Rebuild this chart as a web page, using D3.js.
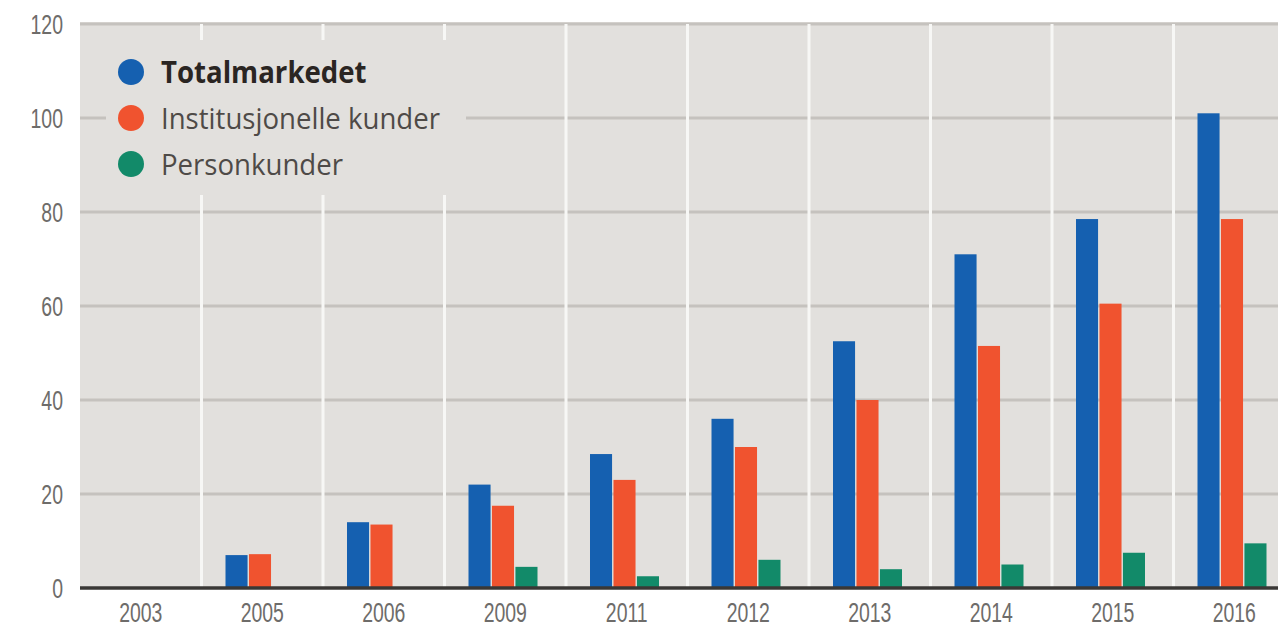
<html>
<head>
<meta charset="utf-8">
<style>
  body { margin: 0; padding: 0; background: #fff; font-family: "Open Sans", "Liberation Sans", sans-serif; }
  .tick text { fill: #6e6c6a; font-size: 27px; }
  .legend text { font-size: 30px; }
</style>
</head>
<body>
<div id="chart"></div>
<script src="https://cdn.jsdelivr.net/npm/d3@7"></script>
<script>
var years = ["2003", "2005", "2006", "2009", "2011", "2012", "2013", "2014", "2015", "2016"];
var total = [0, 7, 14, 22, 28.5, 36, 52.5, 71, 78.5, 101];
var institusjonelle = [0, 7.2, 13.5, 17.5, 23, 30, 40, 51.5, 60.5, 78.5];
var person = [0, 0, 0, 4.5, 2.5, 6, 4, 5, 7.5, 9.5];
var seriesNames = ["Totalmarkedet", "Institusjonelle kunder", "Personkunder"];
var colors = ["#1560b0", "#f0532f", "#128a69"];
var yTicks = [0, 20, 40, 60, 80, 100, 120];

var width = 1278, height = 637;
var margin = { top: 24, left: 80, bottom: 49 };
var bandW = 121.5;

var svg = d3.select("#chart").append("svg")
  .attr("width", width).attr("height", height);

var x = d3.scaleBand().domain(years)
  .range([margin.left, margin.left + bandW * years.length])
  .paddingInner(0).paddingOuter(0);
var y = d3.scaleLinear().domain([0, 120]).range([height - margin.bottom, margin.top]);

var series = [total, institusjonelle, person];
var xs = d3.scaleBand().domain(d3.range(3)).range([24, 24 + 3 * 23]).paddingInner(0.06);

// plot background
svg.append("rect")
  .attr("x", x.range()[0]).attr("y", y(120) - 2)
  .attr("width", x.range()[1] - x.range()[0]).attr("height", y(0) - y(120) + 2)
  .attr("fill", "#e2e0dd");

// horizontal gridlines
svg.append("g").selectAll("line").data(yTicks.slice(1)).enter().append("line")
  .attr("x1", x.range()[0]).attr("x2", x.range()[1])
  .attr("y1", function (d) { return y(d); }).attr("y2", function (d) { return y(d); })
  .attr("stroke", "#c5c2be").attr("stroke-width", 3);

// vertical white separators
svg.append("g").selectAll("line").data(years.slice(1)).enter().append("line")
  .attr("x1", function (d) { return x(d); }).attr("x2", function (d) { return x(d); })
  .attr("y1", y(120)).attr("y2", y(0))
  .attr("stroke", "#f7f7f5").attr("stroke-width", 3);

// bars
series.forEach(function (vals, i) {
  svg.append("g").selectAll("rect").data(vals).enter().append("rect")
    .attr("x", function (d, j) { return x(years[j]) + xs(i); })
    .attr("y", function (d) { return y(d); })
    .attr("width", xs.bandwidth())
    .attr("height", function (d) { return y(0) - y(d); })
    .attr("fill", colors[i]);
});

// baseline
svg.append("line")
  .attr("x1", x.range()[0]).attr("x2", x.range()[1])
  .attr("y1", y(0)).attr("y2", y(0))
  .attr("stroke", "#3a3836").attr("stroke-width", 3.5);

// axes (condensed look via horizontal squeeze)
var yAxis = svg.append("g")
  .attr("transform", "translate(" + (margin.left - 17) + ",0)")
  .call(d3.axisLeft(y).tickValues(yTicks).tickSize(0).tickPadding(0));
yAxis.select(".domain").remove();
yAxis.selectAll("text").attr("x", 0).attr("dy", "0.35em")
  .attr("transform", "scale(0.72,1)");

var xAxis = svg.append("g")
  .attr("transform", "translate(0," + (y(0) + 8) + ")")
  .call(d3.axisBottom(x).tickSize(0).tickPadding(0));
xAxis.select(".domain").remove();
xAxis.selectAll("text").attr("y", 0).attr("dy", "0.95em")
  .attr("transform", "scale(0.72,1)");

// legend
var legend = svg.append("g").attr("class", "legend");
legend.append("rect")
  .attr("x", 106).attr("y", 40).attr("width", 360).attr("height", 155)
  .attr("fill", "#e2e0dd");
seriesNames.forEach(function (name, i) {
  var ly = 72 + i * 46;
  legend.append("circle").attr("cx", 131).attr("cy", ly).attr("r", 13).attr("fill", colors[i]);
  legend.append("text")
    .attr("transform", "translate(161," + ly + ") scale(0.92,1)")
    .attr("dy", "0.35em")
    .attr("fill", i === 0 ? "#2a2522" : "#4e4a47")
    .attr("font-weight", i === 0 ? "bold" : "normal")
    .text(name);
});
</script>
</body>
</html>
